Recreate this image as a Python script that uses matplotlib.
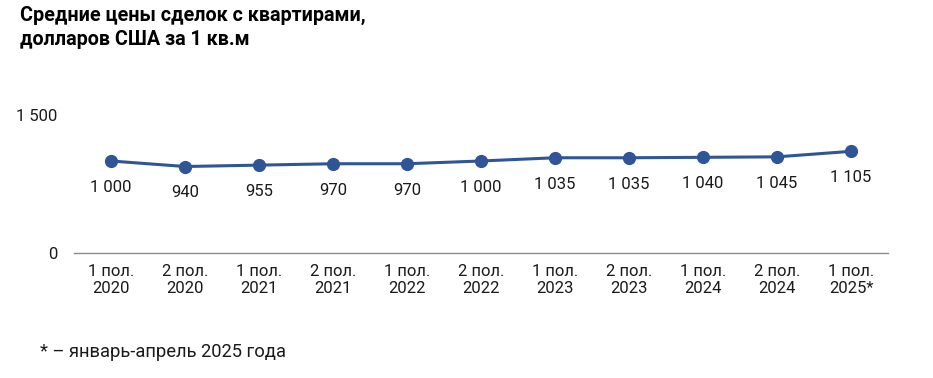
import matplotlib.pyplot as plt

plt.rcParams['font.family'] = ['Roboto', 'DejaVu Sans']

periods = ["1 пол.\n2020", "2 пол.\n2020", "1 пол.\n2021", "2 пол.\n2021", "1 пол.\n2022",
           "2 пол.\n2022", "1 пол.\n2023", "2 пол.\n2023", "1 пол.\n2024", "2 пол.\n2024",
           "1 пол.\n2025*"]
prices = [1000, 940, 955, 970, 970, 1000, 1035, 1035, 1040, 1045, 1105]
yticks = [0, 1500]
ytick_labels = ["0", "1 500"]

fig = plt.figure(figsize=(9.33, 3.78), dpi=100)
ax = fig.add_axes([0.0793, 0.3307, 0.8725, 0.3651])

x = list(range(len(prices)))
ax.plot(x, prices, color='#2f5597', lw=2.2, marker='o', ms=8.5, zorder=3)

for xi, v in zip(x, prices):
    lab = f"{v:,}".replace(",", " ")
    ax.annotate(lab, (xi, v), xytext=(0, -19), textcoords='offset points',
                ha='center', va='center', fontsize=12, color='#1a1a1a')

ax.set_xlim(-0.5, len(prices) - 0.5)
ax.set_ylim(0, 1500)
ax.set_xticks(x)
ax.set_xticklabels(periods, fontsize=12, color='#1a1a1a', linespacing=1.15)
ax.set_yticks(yticks)
ax.set_yticklabels(ytick_labels, fontsize=12, color='#1a1a1a')
ax.tick_params(length=0, pad=8)
ax.tick_params(axis='y', pad=12)

for s in ['top', 'right', 'left']:
    ax.spines[s].set_visible(False)
ax.spines['bottom'].set_color('#8c8c8c')
ax.spines['bottom'].set_linewidth(1.0)

fig.text(0.021, 0.928, "Средние цены сделок с квартирами,\nдолларов США за 1 кв.м",
         fontsize=14.2, fontweight='bold', va='center', ha='left', linespacing=1.3)
fig.text(0.043, 0.069, "* – январь-апрель 2025 года", fontsize=13.2, va='center', ha='left',
         color='#1a1a1a')

fig.savefig("out.png", dpi=100)
